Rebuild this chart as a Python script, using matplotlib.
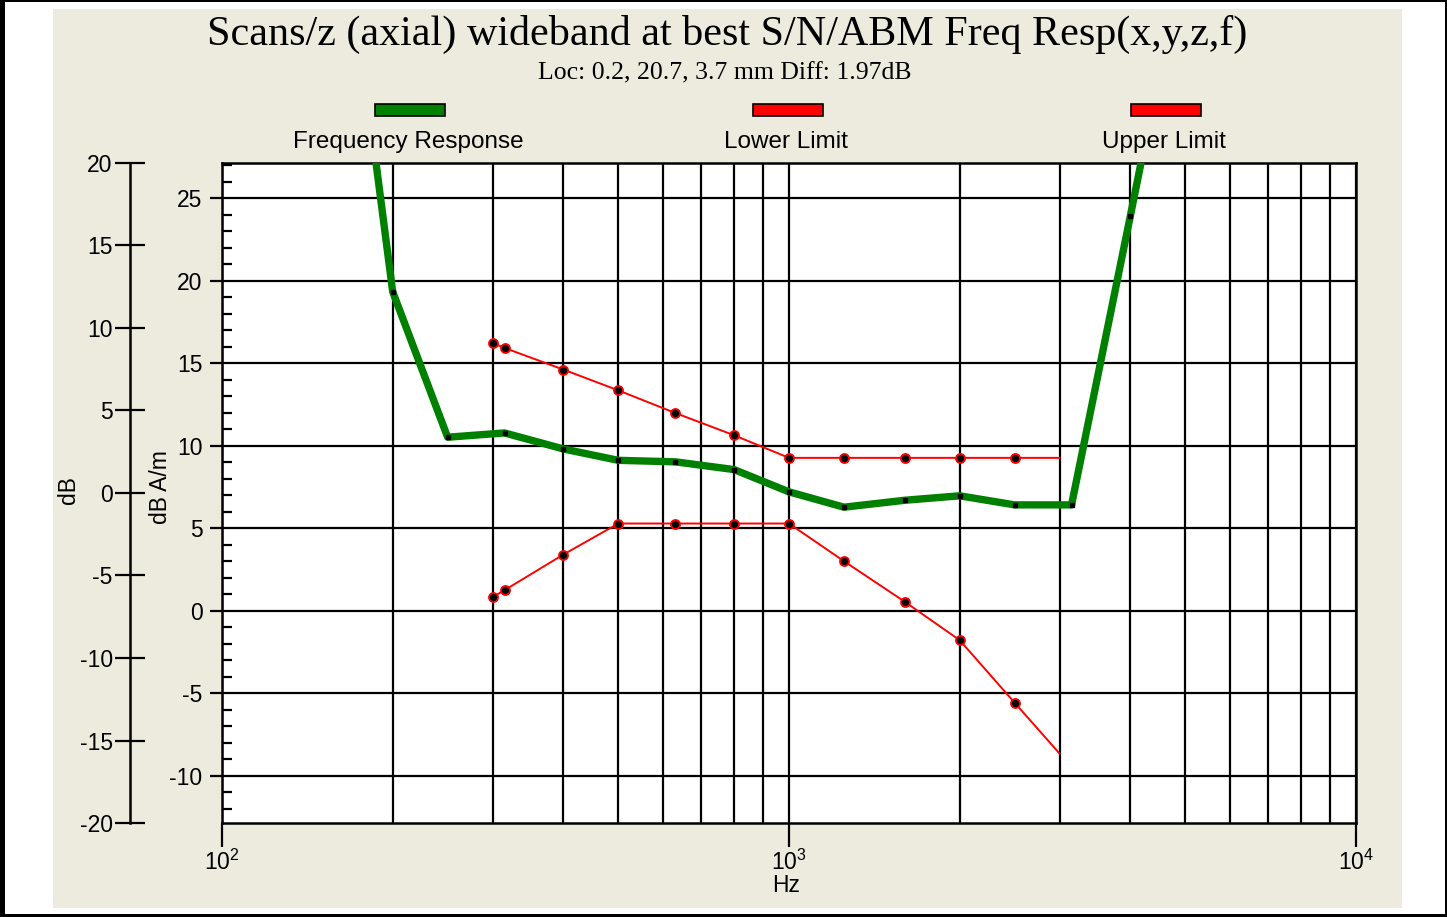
import matplotlib
matplotlib.use('Agg')
import matplotlib.pyplot as plt
from matplotlib.patches import Rectangle
from matplotlib.ticker import FixedLocator, MultipleLocator, NullFormatter

# frequency response (dB A/m)
resp_hz = [180, 200, 250, 315, 400, 500, 630, 800, 1000, 1250, 1600, 2000, 2500, 3150, 4000, 5000]
resp_db = [31.5, 19.35, 10.53, 10.79, 9.82, 9.13, 9.04, 8.57, 7.22, 6.29, 6.71, 6.98, 6.43, 6.43, 23.95, 40.5]

# limit lines
limit_hz = [300, 315, 400, 500, 630, 800, 1000, 1250, 1600, 2000, 2500, 3000]
upper_db = [16.24, 15.94, 14.63, 13.37, 12.0, 10.65, 9.28, 9.28, 9.28, 9.28, 9.28, 9.28]
lower_db = [0.84, 1.26, 3.42, 5.30, 5.30, 5.30, 5.30, 3.02, 0.56, -1.77, -5.56, -8.64]

series_names = ['Frequency Response', 'Lower Limit', 'Upper Limit']
series_colors = ['#008000', '#ff0000', '#ff0000']

inner_ticks = [-10, -5, 0, 5, 10, 15, 20, 25]
outer_ticks = [-20, -15, -10, -5, 0, 5, 10, 15, 20]
x_ticks = [100, 1000, 10000]
x_labels = ['$10^{2}$', '$10^{3}$', '$10^{4}$']

W, H = 1447, 917
sans = ['Liberation Sans', 'DejaVu Sans']
serif = ['Liberation Serif', 'DejaVu Serif']
plt.rcParams['font.family'] = sans
plt.rcParams['axes.unicode_minus'] = False
plt.rcParams['mathtext.fontset'] = 'custom'
plt.rcParams['mathtext.rm'] = 'Liberation Sans'
plt.rcParams['mathtext.it'] = 'Liberation Sans'
plt.rcParams['mathtext.default'] = 'regular'

fig = plt.figure(figsize=(W / 100, H / 100), dpi=100)
fig.patch.set_facecolor('white')

def fx(px):
    return px / W

def fy(py):
    return 1 - py / H

# beige panel and black outer frame
fig.patches.append(Rectangle((fx(53), fy(908)), fx(1402) - fx(53), fy(9) - fy(908),
                             transform=fig.transFigure, facecolor='#ecebdd', edgecolor='none', zorder=-10))
for (x0, y0, x1, y1) in [(0, 0, 5, 917), (0, 0, 1447, 2), (1445, 0, 1447, 917), (0, 914, 1447, 917)]:
    fig.patches.append(Rectangle((fx(x0), fy(y1)), fx(x1) - fx(x0), fy(y0) - fy(y1),
                                 transform=fig.transFigure, facecolor='black', edgecolor='none', zorder=-9))

left, right, top, bottom = 222, 1356, 163, 823
ax = fig.add_axes([fx(left), fy(bottom), fx(right) - fx(left), fy(top) - fy(bottom)])
ax.set_facecolor('white')
ax.set_xscale('log')
ax.set_xlim(100, 10000)
ax.set_ylim(-12.85, 27.15)

ax.grid(True, which='major', axis='both', color='black', lw=1.6)
ax.grid(True, which='minor', axis='x', color='black', lw=1.6)
ax.set_axisbelow(True)

ax.plot(resp_hz, resp_db, color=series_colors[0], lw=5.3, marker='s', ms=3.5,
        mfc='black', mec='black', zorder=3)
ax.plot(limit_hz, upper_db, color=series_colors[2], lw=1.4, marker='o', ms=6.5,
        mfc='black', mec='red', mew=1.3, markevery=list(range(len(limit_hz) - 1)), zorder=4)
ax.plot(limit_hz, lower_db, color=series_colors[1], lw=1.4, marker='o', ms=6.5,
        mfc='black', mec='red', mew=1.3, markevery=list(range(len(limit_hz) - 1)), zorder=4)

ax.yaxis.set_major_locator(FixedLocator(inner_ticks))
ax.yaxis.set_minor_locator(MultipleLocator(1))
ax.tick_params(axis='y', which='major', direction='out', length=9, width=1.6, pad=5, labelsize=16.5)
ax.tick_params(axis='y', which='minor', direction='in', length=7, width=1.6)
ax.xaxis.set_major_locator(FixedLocator(x_ticks))
ax.set_xticklabels(x_labels)
ax.xaxis.set_minor_formatter(NullFormatter())
ax.tick_params(axis='x', which='major', direction='out', length=17, width=1.6, pad=2, labelsize=16.5)
ax.tick_params(axis='x', which='minor', length=0)
for s in ax.spines.values():
    s.set_linewidth(1.8)
    s.set_color('black')

ax.set_ylabel('dB A/m', fontsize=16.5, va='center')
ax.yaxis.set_label_coords((160 - left) / (right - left), 0.509)
ax.set_xlabel('Hz', fontsize=16.5, va='center')
ax.xaxis.set_label_coords(0.497, -(885 - bottom) / (bottom - top))

# outer dB axis
ax2 = ax.twinx()
ax2.set_ylim(-20, 20)
ax2.yaxis.set_ticks_position('left')
ax2.yaxis.set_label_position('left')
ax2.spines['left'].set_position(('axes', (130 - left) / (right - left)))
for k in ['right', 'top', 'bottom']:
    ax2.spines[k].set_visible(False)
ax2.spines['left'].set_linewidth(1.8)
ax2.yaxis.set_major_locator(FixedLocator(outer_ticks))
ax2.tick_params(axis='y', direction='inout', length=21, width=1.6, pad=2, labelsize=16.5)
ax2.set_ylabel('dB', fontsize=16.5, va='center')
ax2.yaxis.set_label_coords((68 - left) / (right - left), 0.5045)

# title and subtitle
fig.text(fx(727), fy(34), 'Scans/z (axial) wideband at best S/N/ABM Freq Resp(x,y,z,f)',
         family=serif, fontsize=30.3, ha='center', va='center')
fig.text(fx(725), fy(73), 'Loc: 0.2, 20.7, 3.7 mm Diff: 1.97dB',
         family=serif, fontsize=18.5, ha='center', va='center')

# legend: swatch above name
legend_x = [410, 788, 1166]
for name, col, cx in zip(series_names, series_colors, legend_x):
    fig.patches.append(Rectangle((fx(cx - 35), fy(116)), fx(70), fy(104) - fy(116),
                                 transform=fig.transFigure, facecolor=col, edgecolor='black', lw=1.2))
    fig.text(fx(cx - 2), fy(142), name, fontsize=17.5, ha='center', va='center')

fig.savefig('out.png', dpi=100)
